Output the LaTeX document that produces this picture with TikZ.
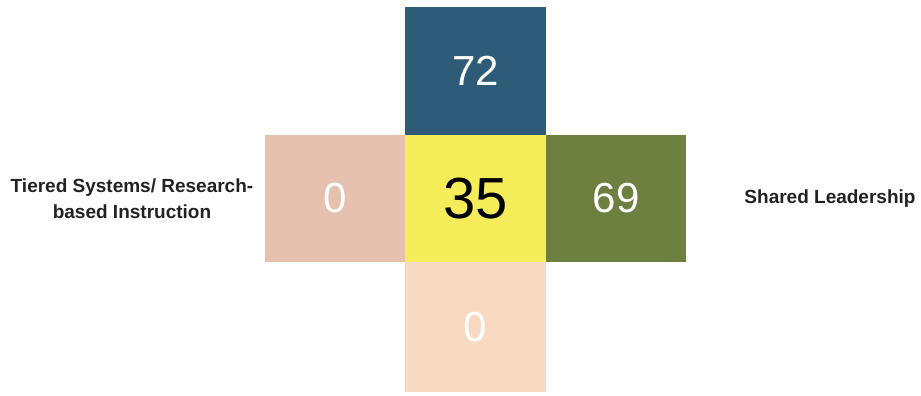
\documentclass[tikz,border=0pt]{standalone}
\usepackage{fontspec}
\setmainfont{Liberation Sans}
\usetikzlibrary{positioning}

\definecolor{topblue}{HTML}{2E5C78}
\definecolor{midyellow}{HTML}{F5EC5A}
\definecolor{rightolive}{HTML}{6E8040}
\definecolor{leftpink}{HTML}{E6C1B0}
\definecolor{bottompeach}{HTML}{F8D9C2}
\definecolor{labelgray}{HTML}{222222}

\begin{document}
\begin{tikzpicture}[x=1pt, y=-1pt, node distance=0pt]
        \tikzstyle{cell} = [rectangle, minimum width=141pt, minimum height=128pt, inner sep=0pt, outer sep=0pt, text centered, text=white, font=\fontsize{42}{42}\selectfont]
        \tikzstyle{label} = [align=center, text=labelgray, font=\fontsize{19}{26}\selectfont\bfseries]

        \useasboundingbox (0,0) rectangle (921,396);

        \node (mid) [cell, fill=midyellow, text=black, minimum height=127pt, font=\fontsize{58}{58}\selectfont] at (475.5,198.5) {35};
        \node (up) [cell, fill=topblue, above=of mid] {72};
        \node (lt) [cell, fill=leftpink, left=of mid, minimum width=140pt, minimum height=127pt] {0};
        \node (rt) [cell, fill=rightolive, right=of mid, minimum width=140pt, minimum height=127pt] {69};
        \node (dn) [cell, fill=bottompeach, below=of mid, minimum height=130pt] {0};

        \node (tiered) [label] at (132,199) {Tiered Systems/ Research-\\based Instruction};
        \node (shared) [label] at (830,199) {Shared Leadership};
    \end{tikzpicture}
\end{document}
